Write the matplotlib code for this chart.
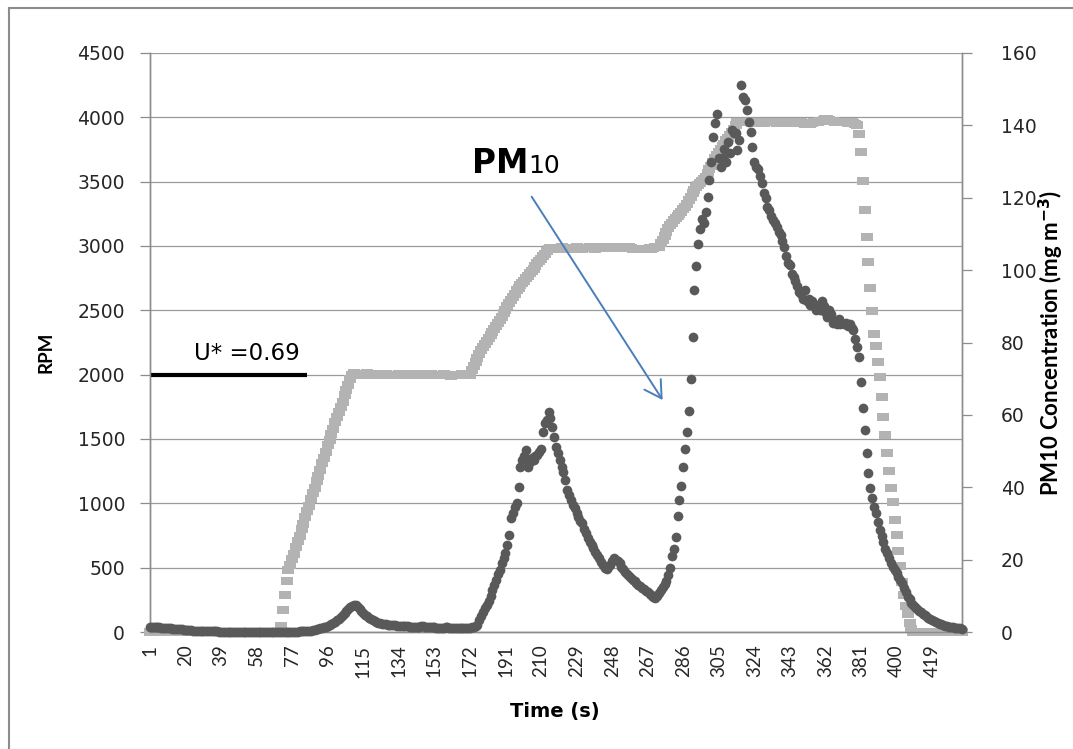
import matplotlib.pyplot as plt
from matplotlib.lines import Line2D
import numpy as np

# fan speed (RPM), one value per second
rpm = [
    0, 0, 0, 0, 0, 0, 0, 0, 0, 0, 0, 0, 0, 0, 0, 0, 0, 0, 0, 0,
    0, 0, 0, 0, 0, 0, 0, 0, 0, 0, 0, 0, 0, 0, 0, 0, 0, 0, 0, 0,
    0, 0, 0, 0, 0, 0, 0, 0, 0, 0, 0, 0, 0, 0, 0, 0, 0, 0, 0, 0,
    0, 0, 0, 0, 0, 0, 0, 0, 0, 0,
    50, 170, 290, 395, 480,
    520, 570, 610, 660, 710, 750, 800, 840, 890, 940, 980, 1030, 1080, 1120, 1170,
    1210, 1260, 1310, 1350, 1400, 1450, 1490, 1540, 1580, 1630, 1670, 1710, 1750, 1790, 1840,
    1880, 1920, 1970, 2000, 2010,
    2000, 2005, 2000, 1995, 2000, 2005, 2010, 2000, 1995, 2000,
    2000, 2005, 2000, 2000, 1995, 2000, 2005, 2000, 2000, 1995,
    1995, 2000, 2000, 2005, 2000, 2000, 1995, 2000, 2000, 2005,
    2000, 1995, 2000, 2000, 2005, 2000, 2000, 1995, 2000, 2000,
    2005, 2000, 2000, 1995, 2000, 2000, 2000, 2005, 2000, 1995,
    1995, 1990, 1995, 2000, 1995, 2000, 2000, 2005, 2000, 2000,
    2000,
    2000, 2040, 2070, 2100, 2130, 2160, 2190, 2215, 2240, 2260, 2285, 2310, 2330, 2355, 2380,
    2400, 2425, 2450, 2480, 2505, 2530, 2555, 2580, 2605, 2630, 2658, 2675, 2695, 2715, 2730,
    2750, 2770, 2790, 2805, 2825, 2845, 2865, 2880, 2900, 2920, 2940, 2960, 2975, 2985,
    2985, 2985, 2980, 2985, 2985, 2990, 2985, 2980, 2985, 2985,
    2985, 2980, 2985, 2990, 2985, 2985, 2980, 2985, 2985, 2985,
    2990, 2985, 2985, 2980, 2985, 2985, 2990, 2985, 2985, 2990,
    2990, 2985, 2990, 2990, 2995, 2990, 2990, 2985, 2990, 2990,
    2985, 2990, 2985, 2980, 2980, 2975, 2980, 2975, 2975, 2980,
    2975, 2980, 2985, 2980, 2985, 2990, 2990, 2995,
    3020, 3050, 3080, 3110, 3140, 3160, 3180, 3200, 3215, 3230, 3250, 3265, 3285, 3300, 3330,
    3355, 3380, 3410, 3435, 3460, 3475, 3490, 3505, 3520, 3540, 3565, 3595, 3625, 3655, 3685,
    3710, 3730, 3755, 3775, 3795, 3820, 3840, 3860, 3885, 3910, 3940, 3960, 3965,
    3965, 3960, 3960, 3965, 3960, 3960, 3955, 3960, 3960, 3965,
    3960, 3960, 3955, 3960, 3960, 3960, 3965, 3960, 3960, 3955,
    3960, 3960, 3960, 3955, 3960, 3960, 3960, 3955, 3960, 3960,
    3960, 3965, 3960, 3955, 3950, 3955, 3950, 3950, 3955, 3960,
    3960, 3965, 3970, 3975, 3980, 3985, 3985, 3980, 3975, 3970,
    3965, 3960, 3960, 3965, 3960, 3960, 3960, 3955, 3960, 3960,
    3955, 3950, 3940,
    3867, 3728, 3507, 3279, 3071, 2873, 2672, 2496, 2314, 2221, 2100, 1980, 1830, 1670, 1528,
    1389, 1253, 1122, 1007, 873, 753, 633, 513, 392, 285, 205, 138, 71, 20,
    0, 0, 0, 0, 0, 0, 0, 0, 0, 0, 0, 0, 0, 0, 0, 0, 0, 0, 0, 0,
    0, 0, 0, 0, 0, 0, 0,
]

# PM10 concentration (mg m-3), one value per second
pm10 = [
    1.5, 1.5, 1.4, 1.4, 1.3, 1.3, 1.2, 1.2, 1.1, 1.1, 1.0, 1.0, 0.9, 0.9, 0.8,
    0.8, 0.7, 0.7, 0.6, 0.6, 0.5, 0.5, 0.5, 0.4, 0.4, 0.4, 0.3, 0.3, 0.3, 0.3,
    0.2, 0.2, 0.2, 0.2, 0.2, 0.2, 0.2, 0.1, 0.1, 0.1, 0.1, 0.1, 0.1, 0.1, 0.1,
    0.1, 0.1, 0.1, 0.1, 0.1, 0.1, 0.1, 0.1, 0.1, 0.1, 0.1, 0.1, 0.1, 0.1, 0.1,
    0.1, 0.1, 0.1, 0.1, 0.1, 0.1, 0.1, 0.1, 0.1, 0.1, 0.1, 0.1, 0.1, 0.1, 0.1,
    0.1, 0.1, 0.1, 0.1, 0.1, 0.2, 0.2, 0.2, 0.2, 0.3,
    0.3, 0.4, 0.5, 0.6, 0.7, 0.8, 1.0, 1.1, 1.3, 1.5, 1.7, 2.0, 2.2, 2.5, 2.8,
    3.2, 3.6, 4.1, 4.6, 5.2, 5.8, 6.3, 6.8, 7.2, 7.5,
    7.4, 7.0, 6.4, 5.8, 5.2, 4.7, 4.3, 3.9, 3.6, 3.3, 3.0, 2.8, 2.6, 2.4, 2.3,
    2.2, 2.1, 2.0, 1.9, 1.9, 1.8, 1.8, 1.7, 1.7, 1.7,
    1.6, 1.6, 1.6, 1.6, 1.5, 1.5, 1.5, 1.5, 1.5, 1.5, 1.6, 1.6, 1.5, 1.5, 1.5,
    1.4, 1.4, 1.3, 1.2, 1.2, 1.1, 1.1, 1.2, 1.3, 1.3, 1.2, 1.1, 1.0, 1.0, 1.0,
    1.0, 1.0, 1.0, 1.0, 1.1, 1.1, 1.2, 1.3, 1.5, 1.7,
    2.0, 3.3, 4.5, 5.5, 6.5, 7.5, 8.5, 10.0, 11.5, 13.0, 14.5, 16.0, 17.0, 19.0, 20.5,
    21.7, 24.0, 26.8, 31.4, 33.0, 34.5, 35.6, 40.1, 45.7, 47.5, 48.5, 50.3, 45.7, 47.1, 48.0,
    47.5, 48.5, 49.0, 49.8, 50.5, 55.3, 57.7, 58.5, 60.9, 59.0, 56.7, 54.0, 51.2, 49.5, 47.5,
    45.5, 44.3, 42.0, 39.2, 37.8, 36.5, 35.0, 34.2, 32.8, 31.9, 30.8, 30.0, 28.5, 27.3, 26.0,
    25.0, 24.0, 23.1, 22.0, 21.3, 20.5, 19.4, 18.5, 17.6, 17.5, 18.0, 18.5, 19.5, 20.4, 20.0,
    19.5, 19.0, 18.0, 17.3, 16.7, 16.0, 15.4, 14.8, 14.4, 14.0, 13.5, 13.0, 12.6, 12.2, 11.8,
    11.4, 11.0, 10.6, 10.2, 9.8, 9.3, 10.0,
    10.8, 11.5, 12.5, 13.3, 14.2, 15.8, 17.6, 21.0, 22.9, 26.3, 32.1, 36.5, 40.3, 45.7, 50.5,
    55.4, 61.2, 69.9, 81.5, 94.6, 101.2, 107.2, 111.5, 114.0, 113.0, 116.0, 120.2, 124.9, 129.9, 136.9,
    140.6, 143.1, 131.0,
    128.5, 130.9, 133.5, 130.0, 135.5, 132.5, 138.7, 137.8, 137.8, 133.2, 136.0, 151.1, 147.9, 147.0, 144.2,
    141.0, 138.2, 134.0, 129.9, 128.5, 128.0, 126.0, 124.0, 121.2, 120.0, 117.4, 116.5, 115.0, 113.8, 113.0,
    112.0, 110.5, 109.7, 108.0, 106.5, 104.0, 102.0, 101.5, 99.0, 98.0, 97.0, 95.5, 94.0, 93.5, 92.0,
    94.5, 91.5, 92.0, 90.5, 91.5, 90.0, 89.0, 90.5, 89.0, 91.5, 90.0, 88.5, 87.0, 89.0, 88.0,
    85.5, 86.0, 85.0, 86.5, 85.0, 85.5, 85.0, 85.5, 84.5, 85.0, 84.0, 83.4, 81.1, 78.8,
    76.1, 69.0, 62.0, 55.8, 49.5, 43.9, 39.9, 36.9, 34.5, 32.8, 30.5, 28.2, 26.5, 24.9, 23.0,
    21.7, 20.5, 19.0, 18.0, 17.0, 16.2, 15.2, 14.3, 13.5, 12.2, 11.0, 9.8, 9.0, 8.0, 7.5,
    7.0, 6.4, 5.9, 5.4, 5.0, 4.7, 4.3, 4.0, 3.6, 3.3, 3.0, 2.8, 2.6, 2.3, 2.1,
    1.9, 1.7, 1.6, 1.5, 1.4, 1.3, 1.2, 1.1, 1.0, 1.0, 0.9,
]

time_ticks = [1, 20, 39, 58, 77, 96, 115, 134, 153, 172, 191, 210, 229,
              248, 267, 286, 305, 324, 343, 362, 381, 400, 419]
u_star_time = [1, 85]
u_star_rpm = [2000, 2000]

plt.rcParams['font.family'] = ['DejaVu Sans']
vert_font = ['Lato', 'DejaVu Sans']

t = np.arange(1, len(rpm) + 1)

W, H = 1073, 749
fig = plt.figure(figsize=(W / 100, H / 100), dpi=100)
ax = fig.add_axes([150 / W, 1 - 632 / H, (962 - 150) / W, (632 - 53) / H])
ax2 = ax.twinx()

axis_grey = '#8c8c8c'
label_col = '#262626'

# rpm series drawn with flat dash markers, like the spreadsheet chart
dash = [(-1, -0.65), (1, -0.65), (1, 0.65), (-1, 0.65), (-1, -0.65)]
ax.plot(t, rpm, ls='none', marker=dash, ms=8.5, mew=0, color='#b3b3b3',
        clip_on=False, zorder=3)
ax.plot(u_star_time, u_star_rpm, color='black', lw=3, solid_capstyle='butt', zorder=4)
ax2.plot(t, pm10, ls='none', marker='o', ms=7, mew=0, color='#595959',
         clip_on=False, zorder=3)

ax.set_xlim(1, len(rpm))
ax.set_ylim(0, 4500)
ax.set_yticks(range(0, 4501, 500))
ax2.set_ylim(0, 160)
ax2.set_yticks(range(0, 161, 20))
ax.set_xticks(time_ticks)
ax.set_xticklabels([str(v) for v in time_ticks], rotation=90, family=vert_font)

ax.yaxis.grid(True, color='#9a9a9a', lw=0.9)
ax.set_axisbelow(True)

for a in (ax, ax2):
    for s in a.spines.values():
        s.set_color(axis_grey)
        s.set_linewidth(1.0)
    a.spines['top'].set_visible(False)

ax.tick_params(axis='x', length=0, pad=9, labelsize=13.5, labelcolor=label_col)
ax.tick_params(axis='y', length=7, width=0.9, color=axis_grey, pad=11,
               labelsize=13.5, labelcolor=label_col)
ax2.tick_params(axis='y', length=7, width=0.9, color=axis_grey, pad=21,
                labelsize=13.5, labelcolor=label_col)

# axis titles
fig.text(46 / W, 1 - 352 / H, 'RPM', rotation=90, ha='center', va='center',
         fontsize=13.5, fontweight='bold', family=vert_font, color='black')
fig.text(555 / W, 1 - 712 / H, 'Time (s)', ha='center', va='center',
         fontsize=14, fontweight='bold', color='black')
fig.text(1051 / W, 1 - 343 / H, r'PM10 Concentration (mg m$^{\mathbf{-3}}$)',
         rotation=90, ha='center', va='center', fontsize=16, fontweight='bold',
         family=vert_font, color='black')

# annotations
ax.text(53, 2113, 'U* =0.69', ha='center', va='baseline', fontsize=16.5, color='black')
ax.text(173, 3567, 'PM', ha='left', va='baseline', fontsize=23.5,
        fontweight='bold', color='black')
ax.text(203, 3567, '10', ha='left', va='baseline', fontsize=18, color='black')
ax.annotate('', xy=(275, 1803), xytext=(205, 3383),
            arrowprops=dict(arrowstyle='->,head_length=0.6,head_width=0.35',
                            color='#4a7ebb', lw=1.4, shrinkA=0, shrinkB=0,
                            mutation_scale=20))

# chart area border (left and top edges are what shows in the frame)
fig.add_artist(Line2D([9 / W, 9 / W], [0, 1 - 8 / H], color='#8c8c8c', lw=1.5))
fig.add_artist(Line2D([9 / W, 1], [1 - 8 / H, 1 - 8 / H], color='#8c8c8c', lw=1.5))

fig.savefig('out.png', dpi=100)
